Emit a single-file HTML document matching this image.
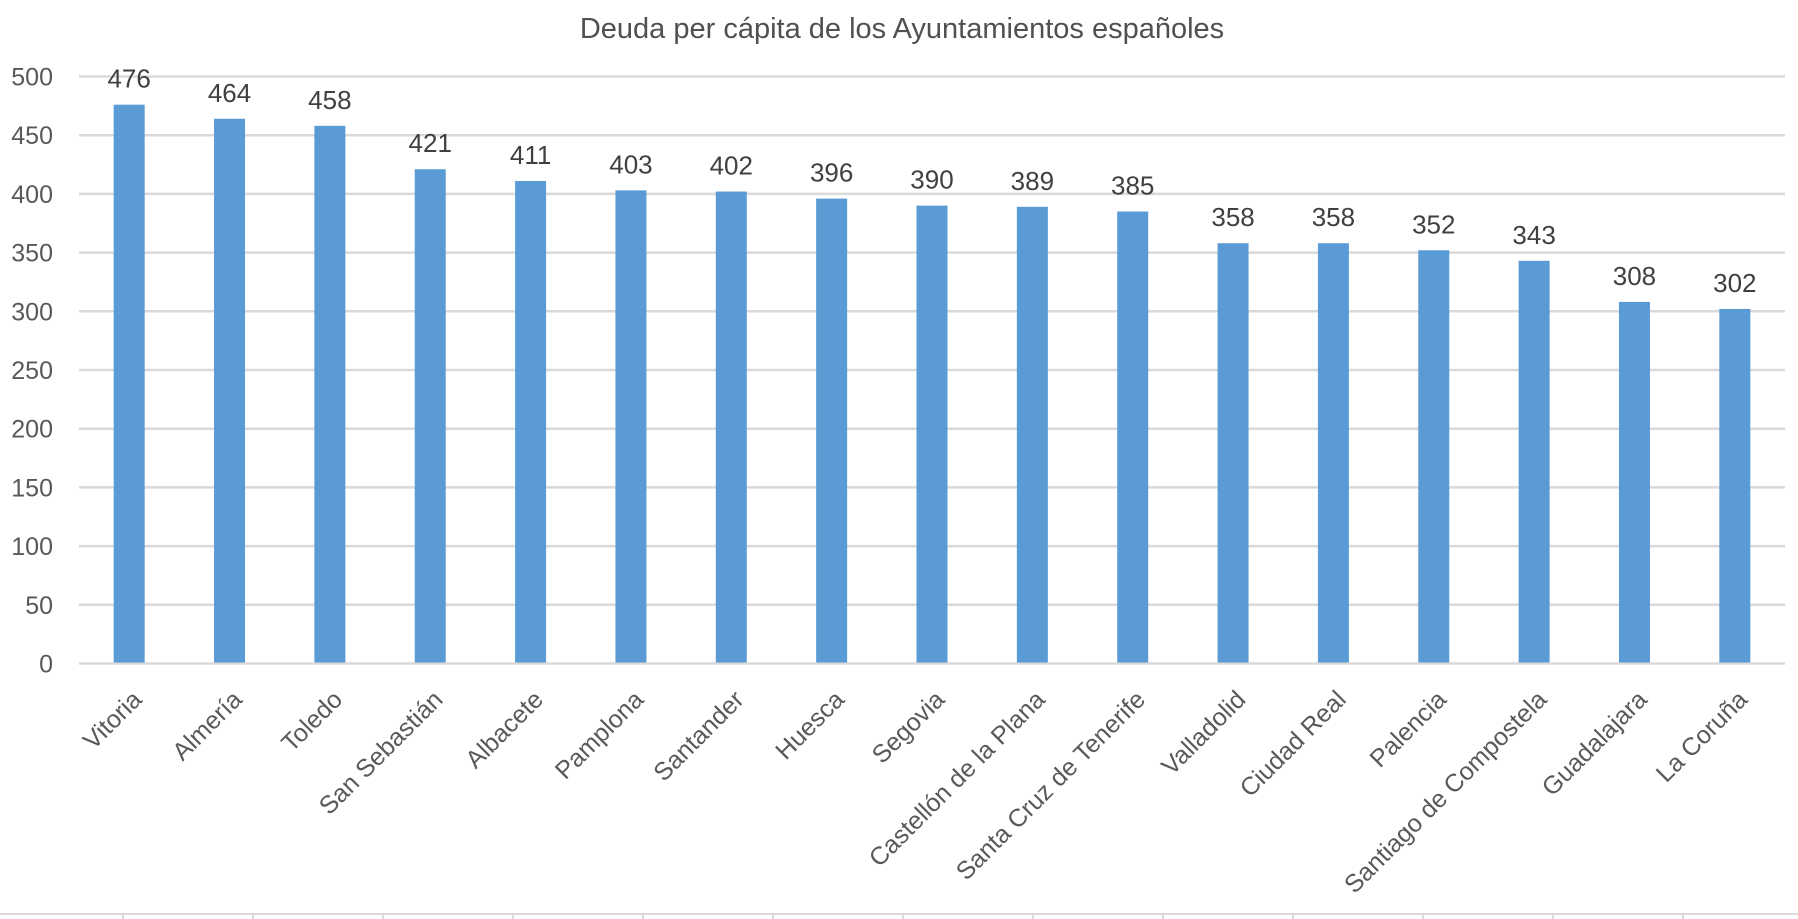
<!DOCTYPE html>
<html><head><meta charset="utf-8"><style>
html,body{margin:0;padding:0;background:#fff;}
svg{display:block;font-family:"Liberation Sans",sans-serif;}
</style></head><body>
<svg id="chart" width="1798" height="919" viewBox="0 0 1798 919" xmlns="http://www.w3.org/2000/svg">
<text x="902" y="38" text-anchor="middle" font-size="29" fill="#505050">Deuda per cápita de los Ayuntamientos españoles</text>
<g id="grid"></g>
<g id="yaxis"></g>
<g id="bars"></g>
<g id="xaxis"></g>
<g id="bottom"></g>
</svg>
<script>
const categories = ["Vitoria","Almería","Toledo","San Sebastián","Albacete","Pamplona","Santander","Huesca","Segovia","Castellón de la Plana","Santa Cruz de Tenerife","Valladolid","Ciudad Real","Palencia","Santiago de Compostela","Guadalajara","La Coruña"];
const values = [476,464,458,421,411,403,402,396,390,389,385,358,358,352,343,308,302];
const yTicks = [0,50,100,150,200,250,300,350,400,450,500];

const NS="http://www.w3.org/2000/svg";
const plotL=79, plotR=1785, y0=663.5, y500=76.5, yMax=500;
const band=(plotR-plotL)/categories.length, barW=31;
function yScale(v){return y0-(v/yMax)*(y0-y500);}
function xCenter(i){return plotL+band*(i+0.5);}
function mk(tag,attrs,parent){const e=document.createElementNS(NS,tag);for(const k in attrs)e.setAttribute(k,attrs[k]);parent.appendChild(e);return e;}
const grid=document.getElementById('grid'),yaxis=document.getElementById('yaxis'),bars=document.getElementById('bars'),xaxis=document.getElementById('xaxis'),bottom=document.getElementById('bottom');
yTicks.forEach(t=>{
  const y=yScale(t);
  const l=mk('line',{x1:plotL,x2:plotR,y1:y,y2:y,stroke:'#D9D9D9','stroke-width':2.5},grid);
  
  
  const tx=mk('text',{x:53,y:y+9,'text-anchor':'end','font-size':25,fill:'#595959'},yaxis);
  tx.textContent=t;
  
  
});
values.forEach((v,i)=>{
  const cx=xCenter(i),y=yScale(v);
  const r=mk('rect',{x:cx-barW/2,y:y,width:barW,height:y0-y-1,fill:'#5B9BD5'},bars);
  
  
  const t=mk('text',{x:cx,y:y-17,'text-anchor':'middle','font-size':26,fill:'#404040'},bars);
  t.textContent=v;
  
  
  const c=mk('text',{x:cx+14,y:701,'text-anchor':'end','font-size':25,fill:'#595959',transform:'rotate(-45 '+(cx+14)+' 701)'},xaxis);
  c.textContent=categories[i];
  
  
});
const bl=mk('line',{x1:0,x2:1798,y1:914,y2:914,stroke:'#D9D9D9','stroke-width':2},bottom);


for(let i=0;i<14;i++){
  const x=123+130*i;
  const tk=mk('line',{x1:x,x2:x,y1:914,y2:919,stroke:'#D9D9D9','stroke-width':2},bottom);
  
  
}
</script>
</body></html>
